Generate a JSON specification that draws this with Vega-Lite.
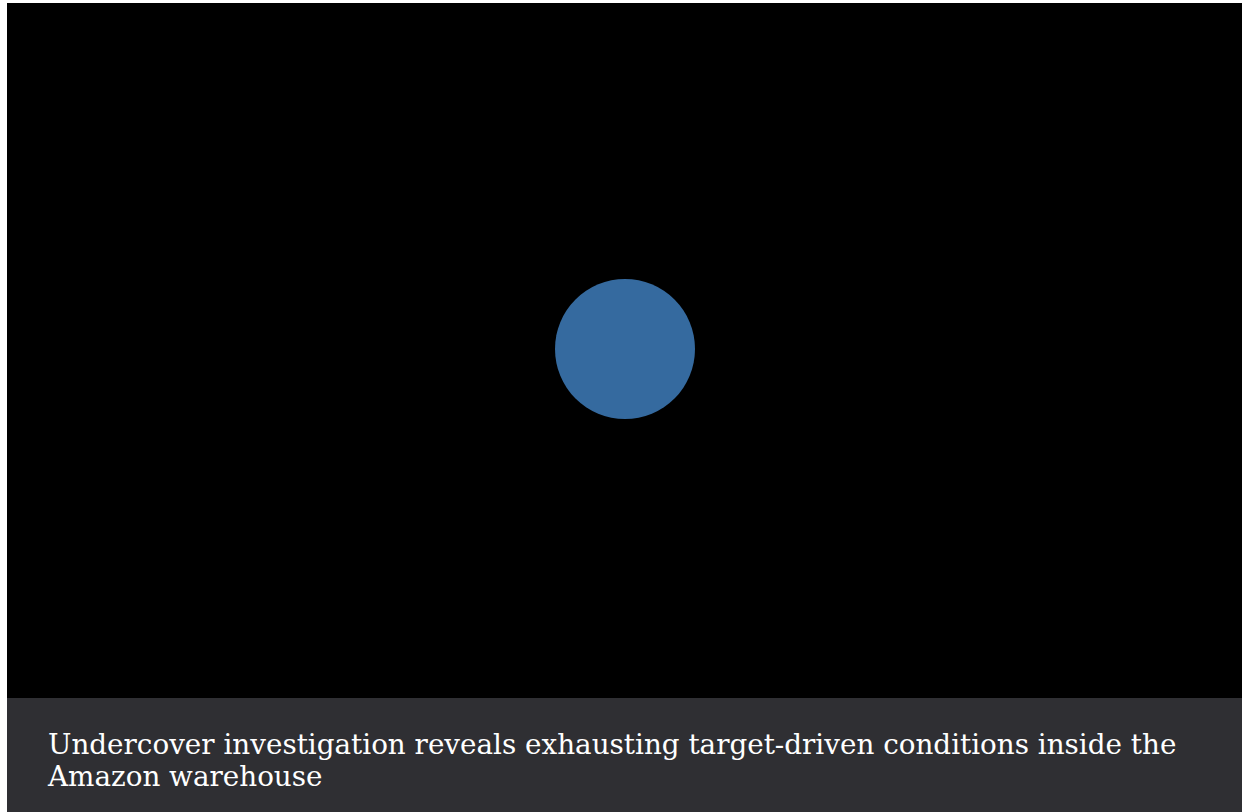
{
  "$schema": "https://vega.github.io/schema/vega-lite/v6.json",
  "width": 1242,
  "height": 812,
  "autosize": {"type": "fit", "contains": "padding"},
  "padding": 0,
  "background": "#ffffff",
  "config": {"view": {"stroke": null}},
  "datasets": {
    "panels": [
      {"part": "video", "x": 7, "x2": 1242, "y": 3, "y2": 698},
      {"part": "caption", "x": 7, "x2": 1242, "y": 698, "y2": 812}
    ],
    "dot": [{"x": 625, "y": 349}],
    "lines": [
      {"x": 48, "y": 754, "t": "Undercover investigation reveals exhausting target-driven conditions inside the"},
      {"x": 48, "y": 786, "t": "Amazon warehouse"}
    ]
  },
  "layer": [
    {
      "data": {"name": "panels"},
      "mark": {"type": "rect"},
      "encoding": {
        "x": {"field": "x", "type": "quantitative", "scale": {"domain": [0, 1242]}, "axis": null},
        "x2": {"field": "x2"},
        "y": {"field": "y", "type": "quantitative", "scale": {"domain": [0, 812], "reverse": true}, "axis": null},
        "y2": {"field": "y2"},
        "color": {"field": "part", "type": "nominal", "scale": {"domain": ["video", "caption"], "range": ["#000000", "#2f2f33"]}, "legend": null}
      }
    },
    {
      "data": {"name": "dot"},
      "mark": {"type": "point", "shape": "circle", "filled": true, "opacity": 1, "size": 19600, "color": "#356a9f"},
      "encoding": {
        "x": {"field": "x", "type": "quantitative", "scale": {"domain": [0, 1242]}, "axis": null},
        "y": {"field": "y", "type": "quantitative", "scale": {"domain": [0, 812], "reverse": true}, "axis": null}
      }
    },
    {
      "data": {"name": "lines"},
      "mark": {"type": "text", "align": "left", "baseline": "alphabetic", "font": "DejaVu Serif", "fontSize": 27.8, "color": "#ffffff"},
      "encoding": {
        "x": {"field": "x", "type": "quantitative", "scale": {"domain": [0, 1242]}, "axis": null},
        "y": {"field": "y", "type": "quantitative", "scale": {"domain": [0, 812], "reverse": true}, "axis": null},
        "text": {"field": "t"}
      }
    }
  ]
}
